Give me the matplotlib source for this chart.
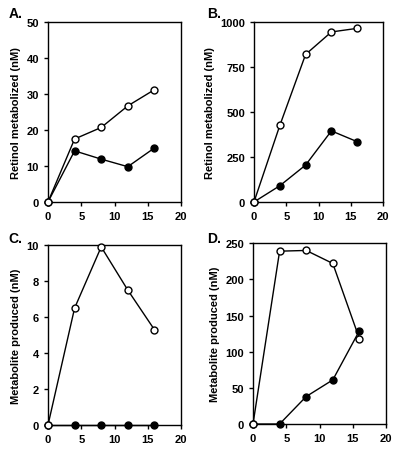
import matplotlib
matplotlib.use('Agg')
import matplotlib.pyplot as plt

plt.rcParams['font.family'] = ['Liberation Sans', 'DejaVu Sans']
plt.rcParams['font.weight'] = 'bold'
plt.rcParams['font.size'] = 8

time_min = [0, 4, 8, 12, 16]

a_open = [0, 17.5, 20.7, 26.7, 31.2]
a_filled = [0, 14.2, 11.9, 9.8, 15.0]
b_open = [0, 425, 820, 945, 965]
b_filled = [0, 90, 205, 395, 335]
c_open = [0, 6.5, 9.9, 7.5, 5.3]
c_filled = [0, 0, 0, 0, 0]
d_open = [0, 239, 240, 222, 118]
d_filled = [0, 0, 38, 61, 129]

panels = [
    ('A.', a_open, a_filled, 'Retinol metabolized (nM)', [0, 10, 20, 30, 40, 50], 50),
    ('B.', b_open, b_filled, 'Retinol metabolized (nM)', [0, 250, 500, 750, 1000], 1000),
    ('C.', c_open, c_filled, 'Metabolite produced (nM)', [0, 2, 4, 6, 8, 10], 10),
    ('D.', d_open, d_filled, 'Metabolite produced (nM)', [0, 50, 100, 150, 200, 250], 250),
]

rects = [
    [0.12, 0.551, 0.3325, 0.398],
    [0.635, 0.551, 0.3225, 0.398],
    [0.12, 0.0575, 0.3325, 0.398],
    [0.6325, 0.0597, 0.3325, 0.400],
]
label_pos = [(0.022, 0.985), (0.518, 0.985), (0.022, 0.487), (0.518, 0.487)]

fig = plt.figure(figsize=(4, 4.52), dpi=100)

for (name, yo, yf, ylab, yticks, ymax), rect, lp in zip(panels, rects, label_pos):
    ax = fig.add_axes(rect)
    ax.plot(time_min, yf, '-o', color='black', lw=1, ms=5, mfc='black', mec='black', clip_on=False, zorder=3)
    ax.plot(time_min, yo, '-o', color='black', lw=1, ms=5, mfc='white', mec='black', clip_on=False, zorder=4)
    ax.set_xlim(0, 20)
    ax.set_ylim(0, ymax)
    ax.set_xticks([0, 5, 10, 15, 20])
    ax.set_yticks(yticks)
    ax.set_ylabel(ylab, fontweight='bold', fontsize=8)
    ax.tick_params(direction='out', length=3, width=1, labelsize=8)
    for s in ax.spines.values():
        s.set_linewidth(1)
    for t in ax.get_xticklabels() + ax.get_yticklabels():
        t.set_fontweight('bold')
    fig.text(lp[0], lp[1], name, fontsize=10, fontweight='bold', va='top', ha='left')

fig.savefig('out.png', dpi=100)
